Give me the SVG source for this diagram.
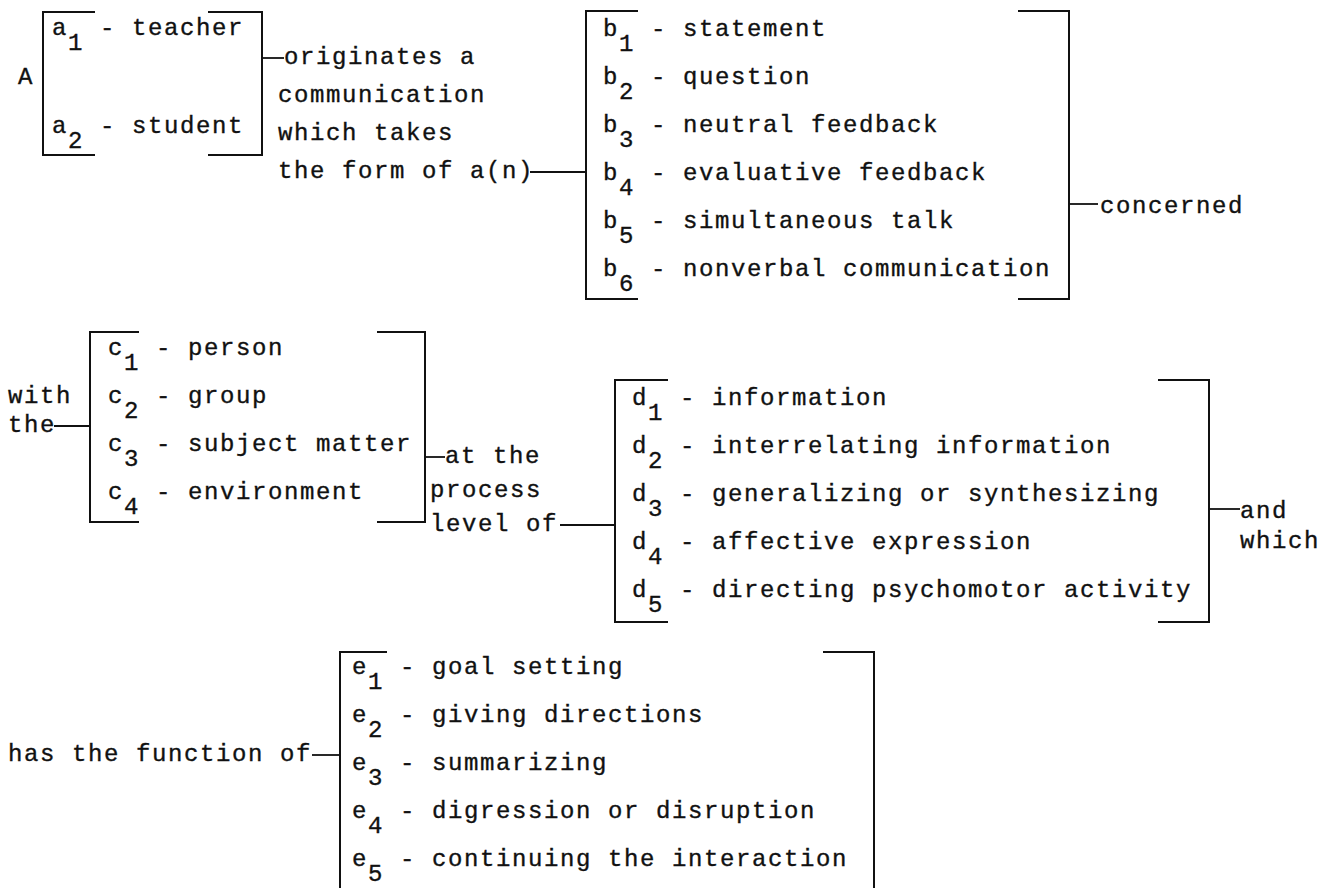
<svg xmlns="http://www.w3.org/2000/svg" width="1334" height="888" viewBox="0 0 1334 888">
<style>
.t{font-family:"Liberation Mono","Courier New",monospace;font-size:24px;letter-spacing:1.6px;fill:#111;stroke:#111;stroke-width:0.35}
.br{fill:none;stroke:#111;stroke-width:2}
.cn{fill:none;stroke:#111;stroke-width:1.8}
</style>
<rect width="1334" height="888" fill="#fff"/>
<g id="node-a">
<text class="t" x="18" y="84">A</text>
<path class="br" d="M95,12H43V155H95M208,12H262V155H208"/>
<text class="t" x="52" y="35">a<tspan dy="15">1</tspan><tspan dy="-15"> - teacher</tspan></text>
<text class="t" x="52" y="133">a<tspan dy="15">2</tspan><tspan dy="-15"> - student</tspan></text>
</g>
<g id="label-originates">
<text class="t" x="284" y="64">originates a</text>
<text class="t" x="278" y="102">communication</text>
<text class="t" x="278" y="140">which takes</text>
<text class="t" x="278" y="178">the form of a(n)</text>
</g>
<g id="node-b">
<path class="br" d="M638,11H586V299H638M1018,11H1069V299H1018"/>
<text class="t" x="603" y="36">b<tspan dy="15">1</tspan><tspan dy="-15"> - statement</tspan></text>
<text class="t" x="603" y="84">b<tspan dy="15">2</tspan><tspan dy="-15"> - question</tspan></text>
<text class="t" x="603" y="132">b<tspan dy="15">3</tspan><tspan dy="-15"> - neutral feedback</tspan></text>
<text class="t" x="603" y="180">b<tspan dy="15">4</tspan><tspan dy="-15"> - evaluative feedback</tspan></text>
<text class="t" x="603" y="228">b<tspan dy="15">5</tspan><tspan dy="-15"> - simultaneous talk</tspan></text>
<text class="t" x="603" y="276">b<tspan dy="15">6</tspan><tspan dy="-15"> - nonverbal communication</tspan></text>
</g>
<g id="label-concerned">
<text class="t" x="1100" y="213">concerned</text>
</g>
<g id="label-with">
<text class="t" x="8" y="403">with</text>
<text class="t" x="8" y="432">the</text>
</g>
<g id="node-c">
<path class="br" d="M139,332H90V522H139M377,332H425V522H377"/>
<text class="t" x="108" y="355">c<tspan dy="15">1</tspan><tspan dy="-15"> - person</tspan></text>
<text class="t" x="108" y="403">c<tspan dy="15">2</tspan><tspan dy="-15"> - group</tspan></text>
<text class="t" x="108" y="451">c<tspan dy="15">3</tspan><tspan dy="-15"> - subject matter</tspan></text>
<text class="t" x="108" y="499">c<tspan dy="15">4</tspan><tspan dy="-15"> - environment</tspan></text>
</g>
<g id="label-process">
<text class="t" x="445" y="463">at the</text>
<text class="t" x="430" y="497">process</text>
<text class="t" x="430" y="531">level of</text>
</g>
<g id="node-d">
<path class="br" d="M668,380H615V622H668M1158,380H1209V622H1158"/>
<text class="t" x="632" y="405">d<tspan dy="15">1</tspan><tspan dy="-15"> - information</tspan></text>
<text class="t" x="632" y="453">d<tspan dy="15">2</tspan><tspan dy="-15"> - interrelating information</tspan></text>
<text class="t" x="632" y="501">d<tspan dy="15">3</tspan><tspan dy="-15"> - generalizing or synthesizing</tspan></text>
<text class="t" x="632" y="549">d<tspan dy="15">4</tspan><tspan dy="-15"> - affective expression</tspan></text>
<text class="t" x="632" y="597">d<tspan dy="15">5</tspan><tspan dy="-15"> - directing psychomotor activity</tspan></text>
</g>
<g id="label-andwhich">
<text class="t" x="1240" y="518">and</text>
<text class="t" x="1240" y="548">which</text>
</g>
<g id="label-function">
<text class="t" x="8" y="761">has the function of</text>
</g>
<g id="node-e">
<path class="br" d="M387,652H340V888M823,652H874V888"/>
<text class="t" x="352" y="674">e<tspan dy="15">1</tspan><tspan dy="-15"> - goal setting</tspan></text>
<text class="t" x="352" y="722">e<tspan dy="15">2</tspan><tspan dy="-15"> - giving directions</tspan></text>
<text class="t" x="352" y="770">e<tspan dy="15">3</tspan><tspan dy="-15"> - summarizing</tspan></text>
<text class="t" x="352" y="818">e<tspan dy="15">4</tspan><tspan dy="-15"> - digression or disruption</tspan></text>
<text class="t" x="352" y="866">e<tspan dy="15">5</tspan><tspan dy="-15"> - continuing the interaction</tspan></text>
</g>
<g id="connectors">
<path class="cn" d="M262,58H284"/>
<path class="cn" d="M530,172H586"/>
<path class="cn" d="M1069,204H1098"/>
<path class="cn" d="M54,426H90"/>
<path class="cn" d="M425,457H445"/>
<path class="cn" d="M560,525H615"/>
<path class="cn" d="M1209,509H1240"/>
<path class="cn" d="M312,755H340"/>
</g>
</svg>
